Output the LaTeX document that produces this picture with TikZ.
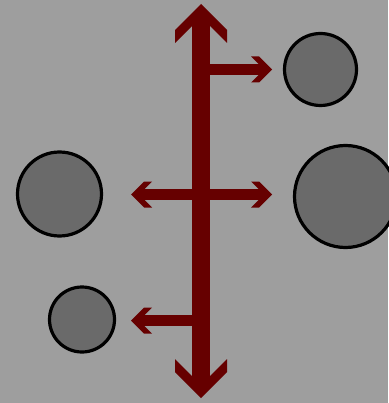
\documentclass[tikz,border=0pt]{standalone}
\begin{document}
\begin{tikzpicture}[x=1pt,y=-1pt]
\definecolor{bg}{RGB}{158,158,158}
\definecolor{disc}{RGB}{106,106,106}
\definecolor{arr}{RGB}{102,0,0}
\tikzset{
  disk/.style={circle,draw=black,line width=3.2pt,fill=disc,inner sep=0pt,minimum size=#1},
  hshaft/.style={draw=arr,line width=10.5pt},
  vshaft/.style={draw=arr,line width=18pt},
  headfill/.style={fill=arr}
}
\useasboundingbox (0,0) rectangle (388,403);
\fill[bg] (0,0) rectangle (388,403);
% discs
\node[disk=72pt] (c1) at (320.5,69.5) {};
\node[disk=102pt] (c2) at (345.5,196.5) {};
\node[disk=84pt] (c3) at (59.5,194) {};
\node[disk=65pt] (c4) at (82,319.5) {};
% coordinates
\coordinate (vt) at (201,16);
\coordinate (vb) at (201,386);
\coordinate (j1) at (201,69.5);
\coordinate (e1) at (266,69.5);
\coordinate (m1) at (137,194.5);
\coordinate (m2) at (266,194.5);
\coordinate (j3) at (201,320.5);
\coordinate (e3) at (137,320.5);
% shafts
\draw[hshaft] (j1) -- (e1);
\draw[hshaft] (m1) -- (m2);
\draw[hshaft] (j3) -- (e3);
\draw[vshaft] (vt) -- (vb);
% heads
\fill[headfill] (201,4) -- (227,30) -- (227,43) -- (201,17) -- (175,43) -- (175,30) -- cycle;
\fill[headfill] (201,398) -- (227,372) -- (227,359) -- (201,385) -- (175,359) -- (175,372) -- cycle;
\fill[headfill] (272,69.5) -- (259,56.5) -- (251,56.5) -- (264,69.5) -- (251,82.5) -- (259,82.5) -- cycle;
\fill[headfill] (272,194.5) -- (259,181.5) -- (251,181.5) -- (264,194.5) -- (251,207.5) -- (259,207.5) -- cycle;
\fill[headfill] (131,194.5) -- (144,181.5) -- (152,181.5) -- (139,194.5) -- (152,207.5) -- (144,207.5) -- cycle;
\fill[headfill] (131,320.5) -- (144,307.5) -- (152,307.5) -- (139,320.5) -- (152,333.5) -- (144,333.5) -- cycle;
\end{tikzpicture}
\end{document}
